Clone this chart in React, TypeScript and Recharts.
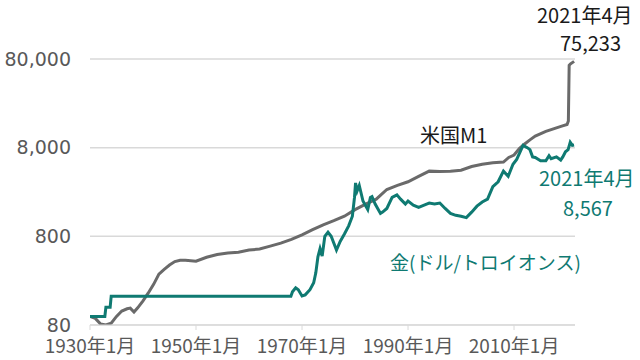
import { LineChart, Line, XAxis, YAxis, CartesianGrid } from 'recharts';

// 1930年1月 = 100 とした指数
const m1Years = [
  1930, 1931, 1932, 1933, 1934, 1935, 1936, 1937, 1937.6, 1938.3, 1939, 1940, 1941, 1942, 1943,
  1944, 1945, 1946, 1947, 1948, 1950, 1952, 1954, 1956, 1958, 1960, 1962, 1964, 1966,
  1968, 1970, 1972, 1974, 1976, 1978, 1980, 1982, 1984, 1986, 1988, 1990, 1992, 1994,
  1996, 1998, 2000, 2002, 2004, 2006, 2008, 2009, 2010, 2011, 2012, 2013, 2014, 2016,
  2018, 2019, 2020, 2020.25, 2020.4, 2020.6, 2021.33,
];
const m1Values = [
  100, 95, 82, 80, 84, 100, 115, 122, 124, 112, 125, 150, 184, 230, 300,
  340, 380, 415, 430, 430, 420, 465, 500, 520, 530, 560, 575, 620, 670,
  740, 830, 950, 1080, 1200, 1350, 1600, 1850, 2100, 2700, 3000, 3300, 3800, 4350,
  4300, 4350, 4450, 4900, 5200, 5400, 5500, 6200, 6600, 7800, 8800, 9800, 10800, 12200,
  13400, 14000, 14600, 16000, 68000, 70000, 75233,
];

const goldYears = [
  1930, 1932.8, 1933, 1933.8, 1934, 1967.9, 1968.2, 1968.8, 1969.3, 1970, 1970.6, 1971.5,
  1972.2, 1972.6, 1973, 1973.4, 1973.8, 1974.3, 1974.9, 1975.5, 1976.5, 1977.2, 1978,
  1978.8, 1979.5, 1979.9, 1980.1, 1980.4, 1980.8, 1981.5, 1982.4, 1982.9, 1983.2, 1983.8,
  1984.8, 1985.2, 1986, 1987, 1987.9, 1988.6, 1989.5, 1990, 1991, 1992, 1993.5, 1994,
  1995, 1996, 1997, 1998, 1999, 2000, 2001, 2002, 2003, 2004, 2005, 2006, 2007, 2008,
  2008.9, 2009.8, 2010.5, 2011.7, 2012.5, 2013, 2013.5, 2014, 2015, 2016, 2016.6, 2017,
  2018, 2018.8, 2019.2, 2019.7, 2020.2, 2020.6, 2021, 2021.33,
];
const goldValues = [
  100, 100, 127, 127, 169, 169, 190, 210, 200, 170, 175, 200,
  240, 310, 470, 580, 480, 800, 890, 800, 560, 700, 850,
  1050, 1350, 2200, 3200, 2600, 3000, 2000, 1600, 2200, 2250, 1850,
  1450, 1500, 1650, 2200, 2350, 2100, 1850, 2000, 1800, 1700, 1850, 1900,
  1850, 1900, 1650, 1450, 1380, 1350, 1300, 1500, 1750, 1950, 2100, 2900, 3300, 4350,
  3800, 5200, 5900, 8500, 8000, 7600, 6300, 6200, 5700, 5700, 6500, 6000,
  6300, 5800, 6300, 7200, 7600, 9200, 8500, 8567,
];

const yTicks = [80, 800, 8000, 80000];
const xTicks = [1930, 1950, 1970, 1990, 2010];

const m1Data = m1Years.map((t, i) => ({ t, v: m1Values[i] }));
const goldData = goldYears.map((t, i) => ({ t, v: goldValues[i] }));

const FONT = '"Noto Sans CJK JP", "Noto Sans", sans-serif';
const TEAL = '#0f7a72';
const GRAY = '#6a6a6a';

const note = (top: number, left: number, color: string, size = 20): React.CSSProperties => ({
  position: 'absolute',
  top,
  left,
  fontSize: size,
  lineHeight: 1,
  color,
  whiteSpace: 'nowrap',
  fontFamily: FONT,
});

export default function App() {
  return (
    <div style={{ position: 'fixed', left: 0, top: 0, width: 640, height: 360, background: '#fff', fontFamily: FONT }}>
      <LineChart width={640} height={360} margin={{ top: 59, right: 65, bottom: 5, left: 0 }}>
        <CartesianGrid vertical={false} stroke="#d9d9d9" strokeWidth={1.5} />
        <XAxis
          dataKey="t"
          type="number"
          domain={[1930, 2021.5]}
          ticks={xTicks}
          tickFormatter={(v: number) => `${v}年1月`}
          tick={{ fill: '#595959', fontSize: 19, fontFamily: FONT }}
          stroke="#d9d9d9"
          tickSize={5}
          tickMargin={10}
          height={30}
          interval={0}
          allowDataOverflow
        />
        <YAxis
          type="number"
          scale="log"
          domain={[80, 80000]}
          ticks={yTicks}
          tickFormatter={(v: number) => v.toLocaleString('en-US')}
          tick={{ fill: '#595959', fontSize: 19, fontFamily: '"DejaVu Sans", sans-serif' }}
          axisLine={false}
          tickLine={false}
          tickSize={0}
          tickMargin={19}
          width={90}
          interval={0}
          allowDataOverflow
        />
        <Line data={m1Data} dataKey="v" type="linear" stroke={GRAY} strokeWidth={3} dot={false} isAnimationActive={false} />
        <Line data={goldData} dataKey="v" type="linear" stroke={TEAL} strokeWidth={3} dot={false} isAnimationActive={false} />
      </LineChart>
      <div style={note(5, 537, '#1a1a1a')}>2021年4月</div>
      <div style={note(33, 560, '#1a1a1a')}>75,233</div>
      <div style={note(125, 420, '#1a1a1a')}>米国M1</div>
      <div style={note(168, 539, TEAL)}>2021年4月</div>
      <div style={note(198, 563, TEAL)}>8,567</div>
      <div style={note(252, 390, TEAL, 19)}>金(ドル/トロイオンス)</div>
    </div>
  );
}
